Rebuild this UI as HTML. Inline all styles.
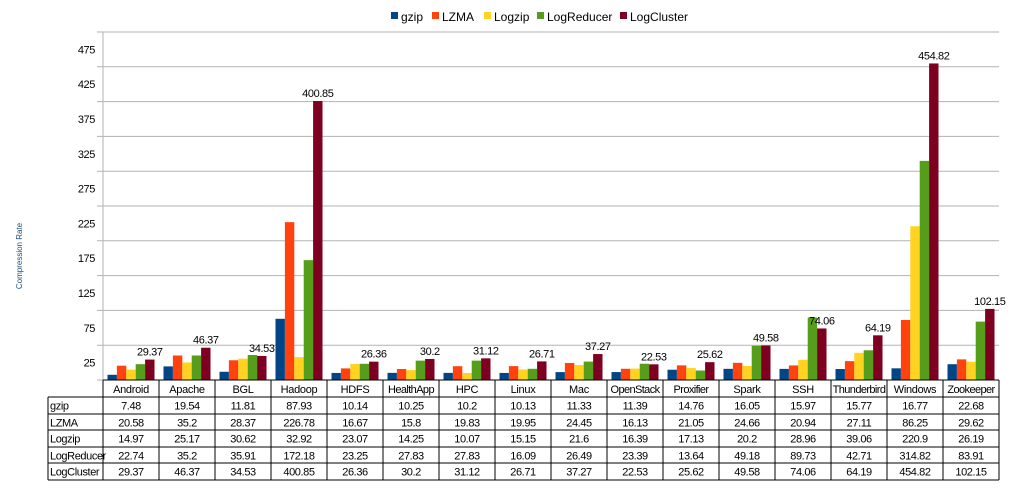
<!DOCTYPE html>
<html><head><meta charset="utf-8"><style>
body{margin:0;background:#fff;font-family:"Liberation Sans",sans-serif;}
svg text{font-family:"Liberation Sans",sans-serif;}
</style></head><body>
<svg id="chart" width="1020" height="490" xmlns="http://www.w3.org/2000/svg"></svg>
<script>
const categories=["Android","Apache","BGL","Hadoop","HDFS","HealthApp","HPC","Linux","Mac","OpenStack","Proxifier","Spark","SSH","Thunderbird","Windows","Zookeeper"];
const seriesNames=["gzip","LZMA","Logzip","LogReducer","LogCluster"];
const gzip=[7.48,19.54,11.81,87.93,10.14,10.25,10.2,10.13,11.33,11.39,14.76,16.05,15.97,15.77,16.77,22.68];
const lzma=[20.58,35.2,28.37,226.78,16.67,15.8,19.83,19.95,24.45,16.13,21.05,24.66,20.94,27.11,86.25,29.62];
const logzip=[14.97,25.17,30.62,32.92,23.07,14.25,10.07,15.15,21.6,16.39,17.13,20.2,28.96,39.06,220.9,26.19];
const logreducer=[22.74,35.2,35.91,172.18,23.25,27.83,27.83,16.09,26.49,23.39,13.64,49.18,89.73,42.71,314.82,83.91];
const logcluster=[29.37,46.37,34.53,400.85,26.36,30.2,31.12,26.71,37.27,22.53,25.62,49.58,74.06,64.19,454.82,102.15];
const yTicks=[25,75,125,175,225,275,325,375,425,475];
const series=[gzip,lzma,logzip,logreducer,logcluster];
const colors=["#004586","#ff420e","#ffd320","#579d1c","#7e0021"];
const svg=document.getElementById('chart');
const NS="http://www.w3.org/2000/svg";
const X0=103,COLW=56,BASE=380,SCALE=0.696;
const y=v=>BASE-v*SCALE;
const xc=i=>X0+i*COLW;
function mk(t,a,txt){const e=document.createElementNS(NS,t);for(const k in a)e.setAttribute(k,a[k]);if(txt!==undefined)e.textContent=txt;svg.appendChild(e);return e;}
for(let v=0;v<=500;v+=50){
 const l=mk('line',{x1:97,x2:999,y1:y(v),y2:y(v),stroke:'#b3b3b3','stroke-width':1});
 
 
}
const ax=mk('line',{x1:X0,x2:X0,y1:y(500),y2:BASE,stroke:'#b3b3b3','stroke-width':1});


yTicks.forEach(v=>{
 const t=mk('text',{x:95,y:y(v)+4,'text-anchor':'end','font-size':11,'letter-spacing':-0.4,fill:'#000'},String(v));
 
 
});
const yt=mk('text',{x:22,y:256,'text-anchor':'middle','font-size':8,fill:'#1f4e79',transform:'rotate(-90 22 256)'},'Compression Rate');


const BW=9.4,PAD=4.5;
categories.forEach((c,i)=>{
 series.forEach((s,j)=>{
  const r=mk('rect',{x:xc(i)+PAD+j*BW,y:y(s[i]),width:BW,height:s[i]*SCALE,fill:colors[j]});
  
  
 });
 const lbl=mk('text',{x:xc(i)+PAD+4.5*BW,y:y(logcluster[i])-4,'text-anchor':'middle','font-size':11,'letter-spacing':-0.4,fill:'#000'},String(logcluster[i]));
 
 
});
const TL=48,rowY=[380,397,414,430,447,463,480];
for(let r=0;r<rowY.length;r++){
 const x1=r===0?X0:TL;
 const l=mk('line',{x1:x1,x2:999,y1:rowY[r],y2:rowY[r],stroke:'#000','stroke-width':1});
 
 
}
const lv=mk('line',{x1:TL,x2:TL,y1:397,y2:480,stroke:'#000'});


for(let i=0;i<=categories.length;i++){
 const l=mk('line',{x1:xc(i),x2:xc(i),y1:380,y2:480,stroke:'#000'});
 
 
}
categories.forEach((c,i)=>{
 const t=mk('text',{x:xc(i)+COLW/2,y:393,'text-anchor':'middle','font-size':11,'letter-spacing':c.length>8?-0.6:-0.3,fill:'#000'},c);
 
 
});
seriesNames.forEach((n,j)=>{
 const t=mk('text',{x:TL+2,y:rowY[j+1]+12.5,'font-size':11,'letter-spacing':-0.4,fill:'#000'},n);
 
 
 series[j].forEach((v,i)=>{
  const c=mk('text',{x:xc(i)+COLW/2,y:rowY[j+1]+12.5,'text-anchor':'middle','font-size':11,'letter-spacing':-0.4,fill:'#000'},String(v));
  
  
 });
});
const legendX=[391,432,484,537,620];
seriesNames.forEach((n,j)=>{
 const r=mk('rect',{x:legendX[j],y:12,width:7,height:7,fill:colors[j]});
 
 
 const t=mk('text',{x:legendX[j]+10,y:21,'font-size':12,fill:'#000'},n);
 
 
});
</script>
</body></html>
